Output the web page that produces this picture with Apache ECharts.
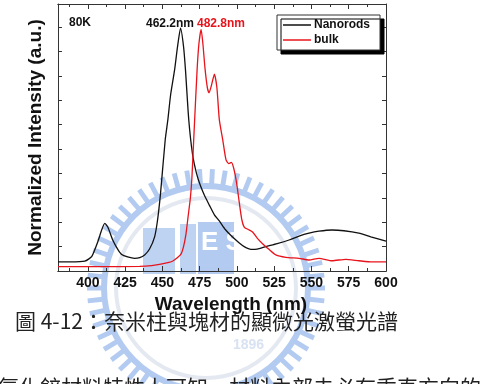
<!DOCTYPE html>
<html>
<head>
<meta charset="utf-8">
<script src="https://cdn.jsdelivr.net/npm/echarts@6/dist/echarts.min.js"></script>
<style>
    html, body { margin: 0; padding: 0; background: #fff; }
    #chart { width: 482px; height: 384px; }
</style>
</head>
<body>
<div id="chart"></div>
<script>
    // 80K 顯微 PL 光譜（歸一化）
    const rodsX = [380, 388, 398, 402.7, 406.7, 409.4, 411.4, 413.4, 416.7, 420, 422.7, 426.7, 431.4, 434.8, 438.1, 441.4,
        444.8, 446.8, 448.8, 451.9, 453.7, 455.5, 458.2, 460.2, 462.2, 464.2, 465.5, 467.7, 470.2, 472.9, 475.5, 478.2,
        481.5, 484.9, 488.2, 492.2, 496.9, 501.6, 504.9, 509.4, 513.6, 519.4, 527, 535, 541.7, 548.4, 555, 563.8,
        571.8, 581.8, 589.8, 600]
    const rodsY = [0.037, 0.037, 0.040, 0.060, 0.120, 0.170, 0.195, 0.180, 0.127, 0.090, 0.068, 0.058, 0.052, 0.055, 0.066, 0.090,
        0.140, 0.210, 0.320, 0.537, 0.620, 0.720, 0.824, 0.920, 0.995, 0.920, 0.824, 0.620, 0.480, 0.400, 0.350, 0.310,
        0.270, 0.230, 0.205, 0.170, 0.140, 0.115, 0.100, 0.089, 0.090, 0.100, 0.112, 0.127, 0.143, 0.155, 0.163, 0.168,
        0.165, 0.155, 0.140, 0.122]

    const bulkX = [380, 408, 434.8, 442.8, 448.1, 452.8, 456.8, 460.2, 462.6, 464.2, 465.8, 467.2, 468.8, 469.8, 471.5, 473.3,
        474.5, 476, 477.2, 478.6, 480.2, 481.3, 482.9, 484.9, 486.6, 488.2, 490.5, 492.7, 494.6, 496.3, 497.9, 499.8,
        501.6, 503.3, 504.9, 507.6, 510.5, 513.6, 517.2, 521.7, 526.1, 532.8, 541.7, 548.4, 555, 563.9, 572.9, 581.8,
        590.7, 600]
    const bulkY = [0.018, 0.018, 0.019, 0.022, 0.027, 0.033, 0.040, 0.055, 0.070, 0.100, 0.150, 0.220, 0.300, 0.380, 0.600, 0.824,
        0.930, 0.990, 0.930, 0.830, 0.750, 0.730, 0.760, 0.807, 0.750, 0.620, 0.537, 0.455, 0.440, 0.445, 0.420, 0.360,
        0.280, 0.210, 0.180, 0.170, 0.160, 0.135, 0.112, 0.088, 0.066, 0.056, 0.052, 0.045, 0.052, 0.042, 0.048, 0.042,
        0.037, 0.037]

    const majorTicks = [400, 425, 450, 475, 500, 525, 550, 575, 600]
    const minorTicks = [387.5, 412.5, 437.5, 462.5, 487.5, 512.5, 537.5, 562.5, 587.5]

    const FONT = 'Liberation Sans, Arial, sans-serif'
    const CJK = 'Noto Sans CJK TC, sans-serif'
    const AXIS_COLOR = '#333'
    const WM_BLUE = '#b3cbf0'

    function zip(xs, ys) {
        return xs.map((x, i) => [x, ys[i]])
    }

    // 背景浮水印（校徽）
    function watermark() {
        let cx = 206, cy = 288, items = []
        let n = 58
        for (let i = 0; i < n; i++) {
            let a = i * 2 * Math.PI / n, h = 0.024
            let p = (r, d) => [cx + r * Math.cos(a + d), cy + r * Math.sin(a + d)]
            items.push({
                type: 'polygon', silent: true, z: -10,
                shape: {points: [p(104, -h), p(119, -h * 0.85), p(119, h * 0.85), p(104, h)]},
                style: {fill: WM_BLUE}
            })
        }
        items.push({type: 'ring', silent: true, z: -10, shape: {cx, cy, r: 105, r0: 99}, style: {fill: WM_BLUE}})
        items.push({type: 'ring', silent: true, z: -10, shape: {cx, cy, r: 92, r0: 88}, style: {fill: '#e4e9f1'}})
        items.push({type: 'rect', silent: true, z: -10, shape: {x: 143, y: 228, width: 32, height: 46}, style: {fill: '#bed2f2'}})
        items.push({type: 'rect', silent: true, z: -10, shape: {x: 180, y: 224, width: 16, height: 50}, style: {fill: '#bed2f2'}})
        items.push({type: 'rect', silent: true, z: -10, shape: {x: 198, y: 222, width: 36, height: 52}, style: {fill: WM_BLUE}})
        items.push({
            type: 'text', silent: true, z: -9, left: 201, top: 230,
            style: {text: 'E S', fill: '#fff', font: 'bold 26px ' + FONT}
        })
        items.push({
            type: 'text', silent: true, z: -9, left: 233, top: 338,
            style: {text: '1896', fill: '#d8e2f2', font: 'bold 14px ' + FONT}
        })
        return items
    }

    let chart = echarts.init(document.getElementById('chart'))

    let xBase = {
        type: 'value', min: 380, max: 600,
        splitLine: {show: false},
        axisLine: {lineStyle: {color: AXIS_COLOR, width: 1}},
    }

    let yBase = {
        type: 'value', min: 0, max: 1.094, interval: 0.1,
        splitLine: {show: false},
        axisLabel: {show: false},
        axisLine: {show: true, lineStyle: {color: AXIS_COLOR, width: 1}},
        axisTick: {show: true, inside: true, length: 4, lineStyle: {color: AXIS_COLOR}}
    }

    let option = {
        animation: false,
        backgroundColor: '#fff',
        grid: {left: 58, right: 96, top: 4, bottom: 113, containLabel: false},
        legend: {
            orient: 'vertical',
            left: 277, top: 15,
            padding: [3, 4, 3, 6],
            itemGap: 1,
            icon: 'rect',
            itemWidth: 28, itemHeight: 1.5,
            backgroundColor: '#fff',
            borderColor: AXIS_COLOR, borderWidth: 1,
            shadowColor: '#000', shadowBlur: 0, shadowOffsetX: 4, shadowOffsetY: 4,
            textStyle: {
                fontFamily: FONT, fontWeight: 'bold', fontSize: 12, color: '#111',
                lineHeight: 14, padding: [0, 6, 0, -2]
            },
            data: ['Nanorods', 'bulk']
        },
        xAxis: [
            Object.assign({}, xBase, {
                position: 'bottom',
                name: 'Wavelength (nm)', nameLocation: 'middle', nameGap: 23,
                nameTextStyle: {fontFamily: FONT, fontWeight: 'bold', fontSize: 19, color: '#111', padding: [0, 0, 0, 18]},
                axisTick: {show: true, inside: true, length: 5, customValues: majorTicks, lineStyle: {color: AXIS_COLOR}},
                axisLabel: {
                    show: true, margin: 5, customValues: majorTicks,
                    fontFamily: FONT, fontWeight: 'bold', fontSize: 14, color: '#111'
                }
            }),
            Object.assign({}, xBase, {
                position: 'bottom',
                axisTick: {show: true, inside: true, length: 3, customValues: minorTicks, lineStyle: {color: AXIS_COLOR}},
                axisLabel: {show: false}
            }),
            Object.assign({}, xBase, {
                position: 'top',
                axisTick: {show: true, inside: true, length: 5, customValues: majorTicks, lineStyle: {color: AXIS_COLOR}},
                axisLabel: {show: false}
            }),
            Object.assign({}, xBase, {
                position: 'top',
                axisTick: {show: true, inside: true, length: 3, customValues: minorTicks, lineStyle: {color: AXIS_COLOR}},
                axisLabel: {show: false}
            })
        ],
        yAxis: [
            Object.assign({}, yBase, {
                position: 'left',
                name: 'Normalized Intensity (a.u.)', nameLocation: 'middle', nameGap: 13,
                nameTextStyle: {fontFamily: FONT, fontWeight: 'bold', fontSize: 19, color: '#111'}
            }),
            Object.assign({}, yBase, {position: 'right'})
        ],
        graphic: watermark().concat([
            {type: 'text', left: 69, top: 17, style: {text: '80K', fill: '#111', font: 'bold 12px ' + FONT}},
            {type: 'text', left: 146, top: 18, style: {text: '462.2nm', fill: '#111', font: 'bold 12px ' + FONT}},
            {type: 'text', left: 197, top: 18, style: {text: '482.8nm', fill: '#e8141c', font: 'bold 12px ' + FONT}},
            {type: 'text', left: 15, top: 311, style: {text: '圖 4-12：奈米柱與塊材的顯微光激螢光譜', fill: '#222', font: '21px ' + CJK}},
            {type: 'text', left: -2, top: 377, style: {text: '氧化鋅材料特性上可知，材料內部未必有垂直方向的', fill: '#222', font: '21px ' + CJK}}
        ]),
        series: [
            {
                name: 'Nanorods', type: 'line', xAxisIndex: 0, yAxisIndex: 0,
                symbol: 'none', smooth: 0.2,
                lineStyle: {color: '#111', width: 1.3},
                itemStyle: {color: '#111'},
                data: zip(rodsX, rodsY)
            },
            {
                name: 'bulk', type: 'line', xAxisIndex: 0, yAxisIndex: 0,
                symbol: 'none', smooth: 0.2,
                lineStyle: {color: '#e8141c', width: 1.3},
                itemStyle: {color: '#e8141c'},
                data: zip(bulkX, bulkY)
            }
        ]
    }

    chart.setOption(option)
</script>
</body>
</html>
